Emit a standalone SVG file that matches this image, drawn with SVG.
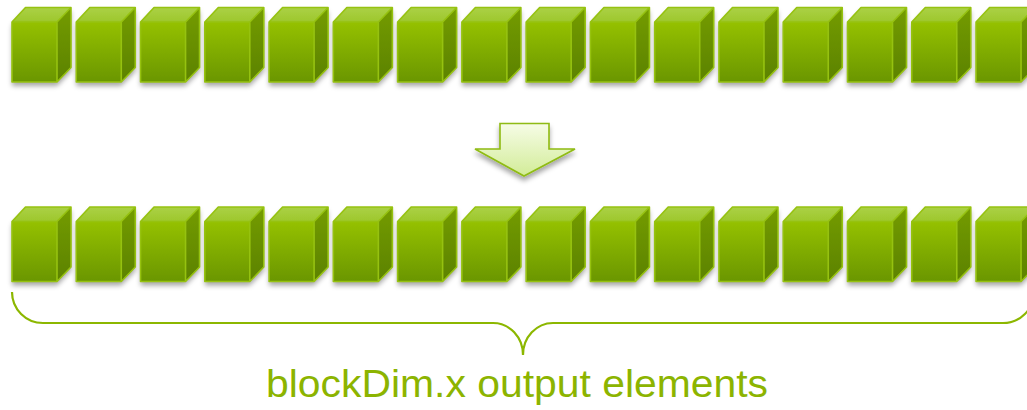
<svg xmlns="http://www.w3.org/2000/svg" xmlns:xlink="http://www.w3.org/1999/xlink" width="1027" height="410" viewBox="0 0 1027 410">
  <style>
    .front { fill: url(#frontGrad); }
    .top { fill: url(#topGrad); }
    .side { fill: url(#sideGrad); }
    .edge { fill: none; stroke: #96c210; stroke-width: 1.6; stroke-linejoin: round; }
    .brace { fill: none; stroke: #8cb700; stroke-width: 2.2; }
    .label { font-family: "Liberation Sans", Arial, sans-serif; font-size: 38px; fill: #8cb400; }
  </style>
  <defs>
    <linearGradient id="frontGrad" x1="0" y1="0" x2="0" y2="1">
      <stop offset="0" stop-color="#95c100"/>
      <stop offset="1" stop-color="#6a9600"/>
    </linearGradient>
    <linearGradient id="topGrad" x1="0" y1="0" x2="0" y2="1">
      <stop offset="0" stop-color="#abd146"/>
      <stop offset="1" stop-color="#9dc72c"/>
    </linearGradient>
    <linearGradient id="sideGrad" x1="0" y1="0" x2="0" y2="1">
      <stop offset="0" stop-color="#749c00"/>
      <stop offset="1" stop-color="#5c8200"/>
    </linearGradient>
    <linearGradient id="arrowGrad" x1="0" y1="0" x2="0" y2="1">
      <stop offset="0" stop-color="#f6fce6"/>
      <stop offset="1" stop-color="#d2ec98"/>
    </linearGradient>
    <filter id="shadow" x="-30%" y="-30%" width="160%" height="170%">
      <feDropShadow dx="0" dy="4" stdDeviation="2.5" flood-color="#000" flood-opacity="0.35"/>
    </filter>
    <!-- one cube, front face top-left corner at the origin -->
    <g id="cube">
      <g filter="url(#shadow)">
        <path class="front" d="M0,0 H45 V60 H0 Z"/>
        <path class="top" d="M0,0 L13.5,-14.5 H59 L45,0 Z"/>
        <path class="side" d="M45,0 L59,-14.5 V45.5 L45,60 Z"/>
      </g>
      <path class="edge" d="M0,0 H45 V60 H0 Z M0,0 L13.5,-14.5 H59 L45,0 M59,-14.5 V45.5 L45,60"/>
    </g>
  </defs>

  <!-- input row -->
  <g id="input-row">
    <g id="in0"><use xlink:href="#cube" x="12" y="22"/></g>
    <g id="in1"><use xlink:href="#cube" x="76.27" y="22"/></g>
    <g id="in2"><use xlink:href="#cube" x="140.54" y="22"/></g>
    <g id="in3"><use xlink:href="#cube" x="204.81" y="22"/></g>
    <g id="in4"><use xlink:href="#cube" x="269.08" y="22"/></g>
    <g id="in5"><use xlink:href="#cube" x="333.35" y="22"/></g>
    <g id="in6"><use xlink:href="#cube" x="397.62" y="22"/></g>
    <g id="in7"><use xlink:href="#cube" x="461.89" y="22"/></g>
    <g id="in8"><use xlink:href="#cube" x="526.16" y="22"/></g>
    <g id="in9"><use xlink:href="#cube" x="590.43" y="22"/></g>
    <g id="in10"><use xlink:href="#cube" x="654.7" y="22"/></g>
    <g id="in11"><use xlink:href="#cube" x="718.97" y="22"/></g>
    <g id="in12"><use xlink:href="#cube" x="783.24" y="22"/></g>
    <g id="in13"><use xlink:href="#cube" x="847.51" y="22"/></g>
    <g id="in14"><use xlink:href="#cube" x="911.78" y="22"/></g>
    <g id="in15"><use xlink:href="#cube" x="976.05" y="22"/></g>
  </g>

  <!-- output row -->
  <g id="output-row">
    <g id="out0"><use xlink:href="#cube" x="12" y="221.5"/></g>
    <g id="out1"><use xlink:href="#cube" x="76.27" y="221.5"/></g>
    <g id="out2"><use xlink:href="#cube" x="140.54" y="221.5"/></g>
    <g id="out3"><use xlink:href="#cube" x="204.81" y="221.5"/></g>
    <g id="out4"><use xlink:href="#cube" x="269.08" y="221.5"/></g>
    <g id="out5"><use xlink:href="#cube" x="333.35" y="221.5"/></g>
    <g id="out6"><use xlink:href="#cube" x="397.62" y="221.5"/></g>
    <g id="out7"><use xlink:href="#cube" x="461.89" y="221.5"/></g>
    <g id="out8"><use xlink:href="#cube" x="526.16" y="221.5"/></g>
    <g id="out9"><use xlink:href="#cube" x="590.43" y="221.5"/></g>
    <g id="out10"><use xlink:href="#cube" x="654.7" y="221.5"/></g>
    <g id="out11"><use xlink:href="#cube" x="718.97" y="221.5"/></g>
    <g id="out12"><use xlink:href="#cube" x="783.24" y="221.5"/></g>
    <g id="out13"><use xlink:href="#cube" x="847.51" y="221.5"/></g>
    <g id="out14"><use xlink:href="#cube" x="911.78" y="221.5"/></g>
    <g id="out15"><use xlink:href="#cube" x="976.05" y="221.5"/></g>
  </g>

  <!-- connectors: block arrow between the rows -->
  <g id="connectors">
    <path filter="url(#shadow)" d="M500,123.5 H549 V149 H575 L524,176 L475,149 H500 Z" fill="url(#arrowGrad)" stroke="#8fbb12" stroke-width="1.6" stroke-linejoin="miter"/>
  </g>

  <!-- brace under the output row -->
  <g id="brace">
    <path class="brace" d="M12,292 A31,31 0 0 0 43,323 H493 A30,32 0 0 1 523,355 A30,32 0 0 1 553,323 H1003 A31,31 0 0 0 1034,292"/>
  </g>

  <g id="caption">
    <text class="label" x="266" y="397" textLength="502" lengthAdjust="spacingAndGlyphs">blockDim.x output elements</text>
  </g>
</svg>
